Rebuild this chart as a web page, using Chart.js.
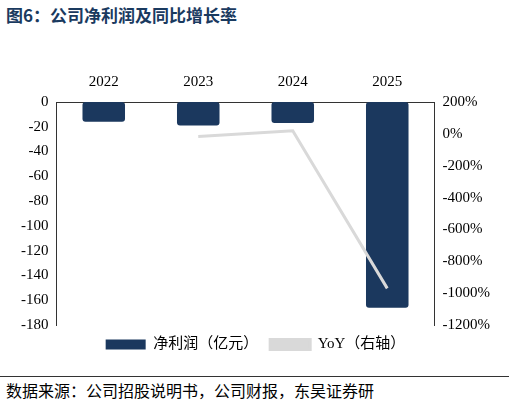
<!DOCTYPE html>
<html>
<head>
<meta charset="utf-8">
<script src="https://cdn.jsdelivr.net/npm/chart.js@4"></script>
<style>
  body { margin: 0; width: 509px; height: 412px; background: #fff; font-family: "Noto Sans CJK SC", sans-serif; position: relative; overflow: hidden; }
  #title { position: absolute; left: 6px; top: 2px; font-size: 17px; font-weight: bold; color: #1a3a5f; }
  #box { position: absolute; left: 0; top: 70px; width: 509px; height: 292px; }
  #footer { position: absolute; left: 0; top: 376px; width: 509px; border-top: 1.5px solid #333; padding-top: 1px; font-size: 16px; color: #000; padding-left: 6px; white-space: nowrap; }
</style>
</head>
<body>
<div id="title">图6：公司净利润及同比增长率</div>
<div id="box"><canvas id="chart"></canvas></div>
<div id="footer">数据来源：公司招股说明书，公司财报，东吴证券研</div>
<script>
const years = ['2022', '2023', '2024', '2025'];
const netProfit = [-16, -19, -17, -166];
const yoy = [null, -17, 19, -970];

const serif = { family: '"Liberation Serif", "Noto Sans CJK SC", serif', size: 15 };

new Chart(document.getElementById('chart'), {
    data: {
        labels: years,
        datasets: [{
            type: 'bar',
            label: '净利润（亿元）',
            data: netProfit,
            backgroundColor: '#1b385e',
            borderRadius: 3,
            borderSkipped: false,
            categoryPercentage: 0.45,
            barPercentage: 1,
            yAxisID: 'y',
            order: 2
        }, {
            type: 'line',
            label: 'YoY（右轴）',
            data: yoy,
            borderColor: '#d9d9d9',
            backgroundColor: '#d9d9d9',
            borderWidth: 3,
            pointRadius: 0,
            yAxisID: 'y1',
            order: 1
        }]
    },
    options: {
        responsive: true,
        maintainAspectRatio: false,
        animation: false,
        layout: { padding: { left: 18, right: 16 } },
        plugins: {
            legend: {
                position: 'bottom',
                labels: {
                    font: serif, color: '#000', boxWidth: 40, boxHeight: 10, padding: 12,
                    sort: (a, b) => a.datasetIndex - b.datasetIndex
                }
            },
            tooltip: { enabled: false }
        },
        scales: {
            x: {
                position: 'top',
                grid: { display: false, drawTicks: true },
                border: { color: '#333' },
                ticks: { font: serif, color: '#000' }
            },
            y: {
                min: -180, max: 0,
                ticks: { stepSize: 20, font: serif, color: '#000' },
                grid: { display: false, drawTicks: true, tickLength: 5 },
                border: { color: '#333' }
            },
            y1: {
                position: 'right',
                min: -1200, max: 200,
                ticks: { stepSize: 200, font: serif, color: '#000', callback: v => v + '%' },
                grid: { display: false, drawTicks: true, tickLength: 5 },
                border: { color: '#333' }
            }
        }
    }
});
</script>
</body>
</html>
